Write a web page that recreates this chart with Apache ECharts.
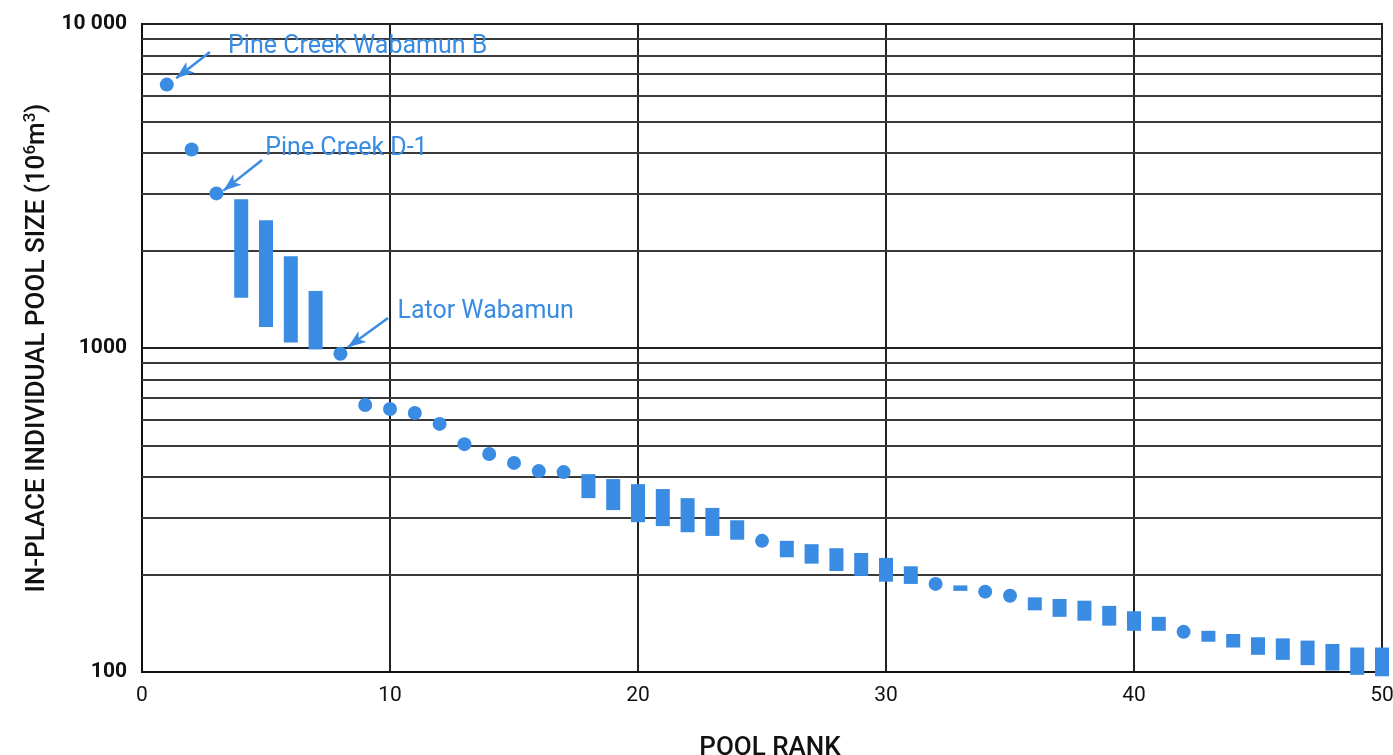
<!DOCTYPE html>
<html>
<head>
<meta charset="utf-8">
<script src="https://cdn.jsdelivr.net/npm/echarts@6/dist/echarts.min.js"></script>
<style>
html,body{margin:0;padding:0;background:#fff;}
#chart{width:1393px;height:755px;}
</style>
</head>
<body>
<div id="chart"></div>
<script>
// Pools shown as single points: [rank, size (10^6 m^3)]
const pointRanks = [1, 2, 3, 8, 9, 10, 11, 12, 13, 14, 15, 16, 17, 25, 32, 34, 35, 42];
const pointSizes = [6500, 4100, 3000, 960, 667, 648, 630, 583, 505, 471, 442, 417, 414, 254, 187, 177, 172, 133];

// Pools shown as ranges: rank, low, high
const rangeRanks = [4, 5, 6, 7, 18, 19, 20, 21, 22, 23, 24, 26, 27, 28, 29, 30, 31, 33, 36, 37, 38, 39, 40, 41, 43, 44, 45, 46, 47, 48, 49, 50];
const rangeLow  = [1430, 1160, 1040, 990, 344, 316, 290, 282, 270, 263, 256, 226, 216, 205, 198, 190, 187, 178, 155, 148, 144, 139, 134, 134, 124, 119, 113, 109, 105, 101, 98, 97];
const rangeHigh = [2880, 2480, 1920, 1500, 408, 394, 380, 367, 344, 321, 294, 254, 248, 241, 233, 225, 212, 185, 170, 168, 166, 160, 154, 148, 134, 131, 128, 127, 125, 122, 119, 119];

// Axis ticks and minor log grid lines
const xTicks = [0, 10, 20, 30, 40, 50];
const yMinorGrid = [200, 300, 400, 500, 600, 700, 800, 900, 2000, 3000, 4000, 5000, 6000, 7000, 8000, 9000];

// Annotations: label text, label anchor [rank, size], arrow start, arrow end
const annoText = ['Pine Creek Wabamun B', 'Pine Creek D-1', 'Lator Wabamun'];
const annoLabelPos = [[3.45, 8500], [4.95, 4130], [10.28, 1290]];
const annoArrowFrom = [[2.74, 8200], [4.84, 3805], [9.92, 1238]];
const annoArrowTo = [[1.38, 6800], [3.28, 3060], [8.3, 1005]];

const BLUE = '#3a8be2';
const FONT_C = "Roboto, 'Noto Sans', sans-serif";

const chart = echarts.init(document.getElementById('chart'));

const pointData = pointRanks.map((r, i) => [r, pointSizes[i]]);
const rangeData = rangeRanks.map((r, i) => [r, rangeLow[i], rangeHigh[i]]);

chart.setOption({
  animation: false,
  backgroundColor: '#fff',
  grid: {
    left: 142, right: 11, top: 24, bottom: 83,
    containLabel: false, outerBoundsMode: 'none',
    show: true, borderColor: '#111', borderWidth: 2, backgroundColor: 'transparent'
  },
  xAxis: {
    type: 'value', min: 0, max: 50, interval: 10,
    name: 'POOL RANK', nameLocation: 'middle', nameGap: 63,
    nameTextStyle: { fontFamily: FONT_C, fontSize: 26, fontWeight: 500, color: '#111', padding: [0, 0, 0, 16] },
    axisLine: { show: true, lineStyle: { color: '#111', width: 2 } },
    axisTick: { show: false },
    axisLabel: {
      fontFamily: FONT_C, fontSize: 21, color: '#111', margin: 13,
      formatter: v => xTicks.includes(v) ? String(v) : ''
    },
    splitLine: { show: true, lineStyle: { color: '#222', width: 2 } }
  },
  yAxis: {
    type: 'log', logBase: 10, min: 100, max: 10000,
    name: 'IN-PLACE INDIVIDUAL POOL SIZE (10{sup|6}m{sup|3})',
    nameLocation: 'middle', nameRotate: 90, nameGap: 84,
    nameTextStyle: {
      fontFamily: FONT_C, fontSize: 26, fontWeight: 500, color: '#111',
      rich: { sup: { fontFamily: FONT_C, fontSize: 17, fontWeight: 500, color: '#111', verticalAlign: 'top', padding: [0, 0, 14, 0] } }
    },
    axisLine: { show: true, lineStyle: { color: '#111', width: 2 } },
    axisTick: { show: false },
    axisLabel: {
      fontFamily: FONT_C, fontSize: 21, fontWeight: 'bold', color: '#111', margin: 15,
      formatter: v => v >= 10000 ? '10 000' : String(v)
    },
    splitLine: { show: true, lineStyle: { color: '#222', width: 2 } }
  },
  series: [
    {
      type: 'line', data: [], silent: true,
      markLine: {
        silent: true, symbol: 'none', animation: false,
        label: { show: false },
        lineStyle: { color: '#3a3a3a', width: 2, type: 'solid' },
        data: yMinorGrid.map(v => ({ yAxis: v }))
      }
    },
    {
      type: 'custom',
      data: rangeData,
      encode: { x: 0, y: [1, 2] },
      renderItem: function (params, api) {
        const top = api.coord([api.value(0), api.value(2)]);
        const bot = api.coord([api.value(0), api.value(1)]);
        return {
          type: 'rect',
          shape: { x: top[0] - 7, y: top[1], width: 14, height: Math.max(bot[1] - top[1], 5) },
          style: { fill: BLUE }
        };
      },
      z: 5
    },
    {
      type: 'scatter',
      data: pointData,
      symbol: 'circle', symbolSize: 14,
      itemStyle: { color: BLUE, opacity: 1 },
      z: 5,
      markLine: {
        silent: true, animation: false,
        symbol: ['none', 'arrow'], symbolSize: [10, 18],
        label: { show: false },
        lineStyle: { color: BLUE, width: 2.5, type: 'solid' },
        data: annoArrowFrom.map((f, i) => [{ coord: f }, { coord: annoArrowTo[i] }])
      },
      markPoint: {
        silent: true, animation: false,
        symbol: 'circle', symbolSize: 1,
        itemStyle: { color: 'transparent' },
        label: {
          show: true, position: 'right', distance: 0,
          formatter: '{b}',
          fontFamily: FONT_C, fontSize: 25, color: BLUE
        },
        data: annoText.map((t, i) => ({ name: t, coord: annoLabelPos[i] }))
      }
    }
  ]
});
</script>
</body>
</html>
